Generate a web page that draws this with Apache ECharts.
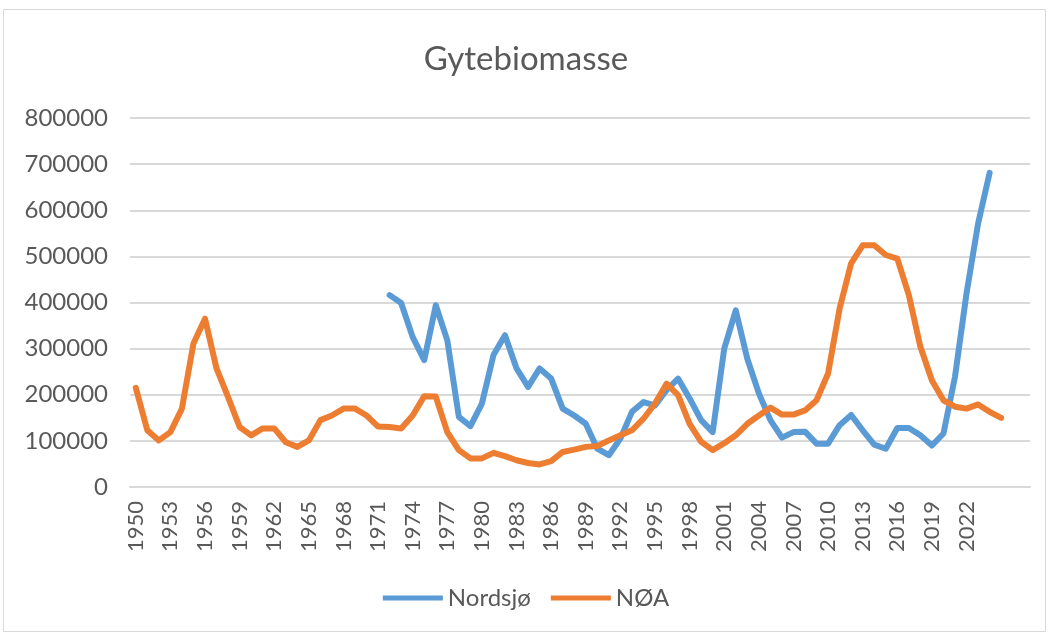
<!DOCTYPE html>
<html>
<head>
<meta charset="utf-8">
<script src="https://cdn.jsdelivr.net/npm/echarts@6/dist/echarts.min.js"></script>
<style>
	html,body{margin:0;padding:0;background:#fff;}
	#chart{width:1052px;height:638px;}
</style>
</head>
<body>
<div id="chart"></div>
<script>
	// years on the axis; the last three slots carry no label in the original
	var years = [];
	for (var y = 1950; y <= 2024; y++) years.push(String(y));
	var categories = years.concat(['', '', '']);

	// Nordsjø, 1972 - 2024
	var nordsjoStart = 1972;
	var nordsjo = [416000,399000,325000,275000,394000,318000,152000,132000,181000,286000,
		329000,257000,217000,257000,235000,170000,155000,137000,83000,69000,
		105000,163000,184000,177000,210000,235000,192000,145000,119000,300000,
		383000,278000,203000,145000,107000,119000,120000,94000,94000,134000,
		156000,123000,92000,83000,128000,128000,112000,90000,116000,239000,
		420000,571000,681000];

	// NØA, 1950 - 2025
	var noaStart = 1950;
	var noa = [215000,123000,101000,119000,170000,311000,365000,257000,195000,130000,
		112000,127000,127000,97000,87000,101000,145000,155000,170000,170000,
		155000,131000,130000,127000,155000,197000,196000,119000,80000,62000,
		62000,74000,67000,58000,52000,49000,56000,76000,81000,87000,
		89000,101000,112000,123000,148000,181000,224000,199000,137000,98000,
		80000,95000,112000,137000,155000,172000,157000,157000,166000,188000,
		246000,387000,485000,524000,524000,503000,495000,416000,304000,231000,
		188000,174000,170000,179000,163000,150000];

	var yTicks = [0, 800000, 100000]; // min, max, step

	function pad(vals, start){
		var out = [];
		for (var i = 0; i < categories.length; i++) {
			var k = i - (start - 1950);
			out.push(k >= 0 && k < vals.length ? vals[k] : null);
		}
		return out;
	}

	var txt = '#595959';
	var chart = echarts.init(document.getElementById('chart'));
	var option = {
		animation: false,
		title: {
			text: 'Gytebiomasse',
			left: 'center',
			top: 38,
			textStyle: {fontFamily: 'Lato', fontWeight: 'normal', fontSize: 33, color: txt}
		},
		graphic: [{
			type: 'rect',
			shape: {x: 3.5, y: 9.5, width: 1042, height: 622},
			style: {fill: 'none', stroke: '#d9d9d9', lineWidth: 1},
			silent: true
		}],
		legend: {
			bottom: 23,
			left: 'center',
			icon: 'rect',
			itemWidth: 60,
			itemHeight: 5,
			itemGap: 20,
			textStyle: {fontFamily: 'Lato', fontSize: 24, color: txt},
			data: ['Nordsjø', 'NØA']
		},
		grid: {left: 130, right: 22, top: 118, bottom: 151},
		xAxis: {
			type: 'category',
			data: categories,
			boundaryGap: true,
			axisLine: {lineStyle: {color: '#d9d9d9', width: 2}},
			axisTick: {show: false},
			axisLabel: {interval: 2, rotate: 90, margin: 14, fontFamily: 'Lato', fontSize: 22, color: txt}
		},
		yAxis: {
			type: 'value',
			min: yTicks[0],
			max: yTicks[1],
			interval: yTicks[2],
			axisLine: {show: false},
			axisTick: {show: false},
			axisLabel: {
				margin: 22, fontFamily: 'Lato', fontSize: 24, color: txt,
				formatter: function(v){ return String(v); }
			},
			splitLine: {lineStyle: {color: '#d9d9d9', width: 2}}
		},
		series: [
			{
				name: 'Nordsjø',
				type: 'line',
				data: pad(nordsjo, nordsjoStart),
				symbol: 'none',
				itemStyle: {color: '#5B9BD5'},
				lineStyle: {color: '#5B9BD5', width: 6, cap: 'round', join: 'round'}
			},
			{
				name: 'NØA',
				type: 'line',
				data: pad(noa, noaStart),
				symbol: 'none',
				itemStyle: {color: '#ED7D31'},
				lineStyle: {color: '#ED7D31', width: 6, cap: 'round', join: 'round'}
			}
		]
	};
	chart.setOption(option);
</script>
</body>
</html>
